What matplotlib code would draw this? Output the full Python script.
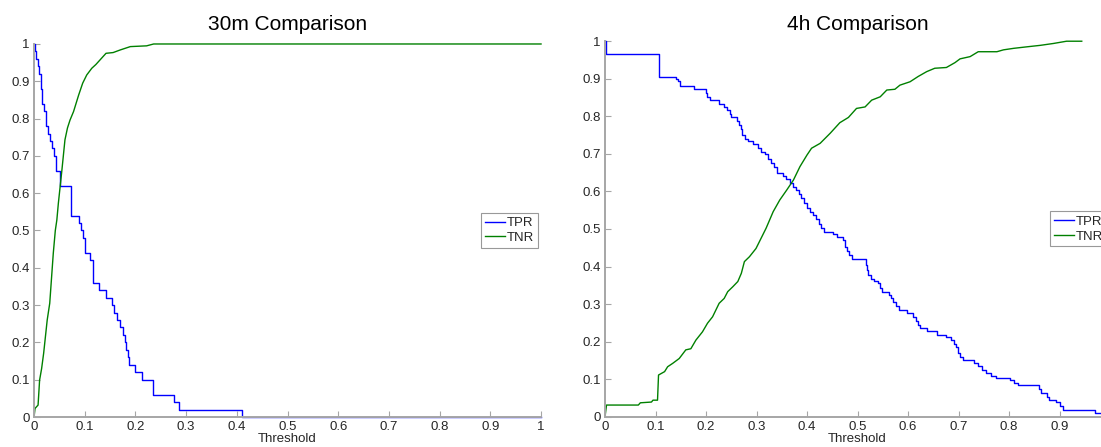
"""TPR / TNR against decision threshold for the 30m and 4h models."""
import matplotlib

matplotlib.use("Agg")
import matplotlib.pyplot as plt
from matplotlib.ticker import FixedLocator, FixedFormatter

plt.rcParams["font.family"] = ["Liberation Sans", "DejaVu Sans"]

# 30m model
tpr30_x = [0, 0.002, 0.004, 0.007, 0.010, 0.013, 0.016, 0.020, 0.023, 0.027, 0.031, 0.035,
           0.039, 0.043, 0.052, 0.072, 0.089, 0.093, 0.097, 0.101, 0.111, 0.116, 0.128, 0.141,
           0.153, 0.158, 0.164, 0.169, 0.176, 0.179, 0.182, 0.185, 0.188, 0.199, 0.213, 0.234,
           0.277, 0.285, 0.411, 1.0]
tpr30_y = [1.0, 0.98, 0.96, 0.94, 0.92, 0.88, 0.84, 0.82, 0.78, 0.76, 0.74, 0.72,
           0.70, 0.66, 0.62, 0.54, 0.52, 0.50, 0.48, 0.44, 0.42, 0.36, 0.34, 0.32,
           0.30, 0.28, 0.26, 0.24, 0.22, 0.20, 0.18, 0.16, 0.14, 0.12, 0.10, 0.06,
           0.04, 0.02, 0.0, 0.0]
tnr30_x = [0, 0.002, 0.008, 0.011, 0.015, 0.019, 0.026, 0.031, 0.038, 0.042, 0.045, 0.048,
           0.055, 0.061, 0.066, 0.071, 0.078, 0.088, 0.096, 0.104, 0.114, 0.122, 0.130, 0.142,
           0.156, 0.170, 0.190, 0.222, 0.236, 1.0]
tnr30_y = [0, 0.023, 0.032, 0.099, 0.13, 0.171, 0.26, 0.305, 0.439, 0.50, 0.528, 0.573,
           0.662, 0.743, 0.775, 0.796, 0.819, 0.863, 0.895, 0.917, 0.935, 0.945, 0.957, 0.975,
           0.977, 0.984, 0.993, 0.995, 1.0, 1.0]

# 4h model
tpr4h_x = [0, 0.002, 0.106, 0.141, 0.144, 0.148, 0.177, 0.199, 0.202, 0.207, 0.226, 0.236,
           0.241, 0.247, 0.250, 0.262, 0.266, 0.269, 0.272, 0.277, 0.284, 0.293, 0.303, 0.308,
           0.317, 0.322, 0.328, 0.334, 0.341, 0.352, 0.358, 0.366, 0.372, 0.379, 0.384, 0.389,
           0.394, 0.399, 0.406, 0.412, 0.417, 0.423, 0.427, 0.433, 0.452, 0.459, 0.472, 0.476,
           0.479, 0.484, 0.490, 0.517, 0.519, 0.521, 0.526, 0.532, 0.541, 0.545, 0.548, 0.562,
           0.566, 0.570, 0.576, 0.583, 0.598, 0.610, 0.616, 0.620, 0.623, 0.638, 0.658, 0.676,
           0.686, 0.691, 0.695, 0.698, 0.703, 0.709, 0.731, 0.738, 0.746, 0.754, 0.764, 0.774,
           0.802, 0.809, 0.818, 0.860, 0.864, 0.876, 0.880, 0.894, 0.900, 0.907, 0.970, 1.0]
tpr4h_y = [1.0, 0.965, 0.906, 0.899, 0.893, 0.881, 0.872, 0.862, 0.852, 0.843, 0.833, 0.826,
           0.817, 0.806, 0.797, 0.787, 0.777, 0.765, 0.750, 0.740, 0.733, 0.726, 0.716, 0.706,
           0.699, 0.687, 0.676, 0.664, 0.648, 0.641, 0.632, 0.623, 0.613, 0.604, 0.594, 0.582,
           0.568, 0.555, 0.545, 0.537, 0.526, 0.514, 0.502, 0.493, 0.487, 0.479, 0.470, 0.452,
           0.440, 0.431, 0.420, 0.405, 0.390, 0.377, 0.368, 0.362, 0.355, 0.343, 0.333, 0.325,
           0.315, 0.306, 0.294, 0.284, 0.275, 0.266, 0.256, 0.245, 0.235, 0.227, 0.218, 0.212,
           0.203, 0.193, 0.185, 0.170, 0.160, 0.151, 0.142, 0.135, 0.125, 0.116, 0.108, 0.104,
           0.098, 0.091, 0.084, 0.075, 0.064, 0.052, 0.045, 0.040, 0.028, 0.018, 0.009, 0.009]
tnr4h_x = [0, 0.003, 0.066, 0.070, 0.092, 0.095, 0.104, 0.106, 0.118, 0.124, 0.134, 0.147,
           0.160, 0.170, 0.180, 0.193, 0.203, 0.213, 0.226, 0.236, 0.243, 0.253, 0.263, 0.270,
           0.276, 0.286, 0.299, 0.309, 0.319, 0.326, 0.333, 0.346, 0.360, 0.373, 0.386, 0.400,
           0.409, 0.426, 0.446, 0.465, 0.482, 0.498, 0.515, 0.528, 0.545, 0.558, 0.574, 0.584,
           0.604, 0.620, 0.637, 0.653, 0.676, 0.693, 0.703, 0.723, 0.739, 0.776, 0.789, 0.809,
           0.835, 0.862, 0.888, 0.914, 0.944]
tnr4h_y = [0, 0.031, 0.031, 0.037, 0.039, 0.044, 0.044, 0.111, 0.120, 0.133, 0.142, 0.155,
           0.178, 0.181, 0.204, 0.226, 0.249, 0.266, 0.302, 0.315, 0.333, 0.346, 0.360, 0.382,
           0.413, 0.426, 0.448, 0.475, 0.502, 0.524, 0.546, 0.577, 0.604, 0.630, 0.666, 0.697,
           0.715, 0.728, 0.755, 0.783, 0.797, 0.821, 0.825, 0.843, 0.852, 0.870, 0.872, 0.883,
           0.892, 0.906, 0.919, 0.928, 0.930, 0.943, 0.953, 0.959, 0.972, 0.972, 0.977, 0.981,
           0.985, 0.989, 0.994, 1.0, 1.0]

ticks = [0, 0.1, 0.2, 0.3, 0.4, 0.5, 0.6, 0.7, 0.8, 0.9, 1.0]
tick_labels = ["0", "0.1", "0.2", "0.3", "0.4", "0.5", "0.6", "0.7", "0.8", "0.9", "1"]

AXIS_GREY = "#a6a6a6"
TEXT_GREY = "#262626"


def _style_axes(ax, title, n_xticks, title_pad):
    for side in ("top", "right"):
        ax.spines[side].set_visible(False)
    for side in ("bottom", "left"):
        ax.spines[side].set_color(AXIS_GREY)
        ax.spines[side].set_linewidth(1.4)
    ax.set_xlim(0, 1)
    ax.set_ylim(0, 1)
    ax.xaxis.set_major_locator(FixedLocator(ticks[:n_xticks]))
    ax.xaxis.set_major_formatter(FixedFormatter(tick_labels[:n_xticks]))
    ax.yaxis.set_major_locator(FixedLocator(ticks))
    ax.yaxis.set_major_formatter(FixedFormatter(tick_labels))
    ax.tick_params(direction="in", length=4, width=0.8, color=AXIS_GREY,
                   labelcolor=TEXT_GREY, labelsize=9.5, pad=3)
    ax.set_title(title, fontsize=15, color="black", pad=title_pad)
    ax.set_xlabel("Threshold", fontsize=9.5, color=TEXT_GREY, labelpad=0)


def _plot_panel(ax, tpr_x, tpr_y, tnr_x, tnr_y, title, n_xticks=len(ticks), title_pad=9.8):
    ax.plot(tpr_x, tpr_y, color="#0000ff", lw=1.0, drawstyle="steps-post",
            label="TPR", clip_on=False)
    ax.plot(tnr_x, tnr_y, color="#008000", lw=1.0, label="TNR", clip_on=False)
    _style_axes(ax, title, n_xticks, title_pad)
    leg = ax.legend(loc="center right", fontsize=9.5, frameon=True, fancybox=False,
                    edgecolor="#999999", framealpha=1, borderpad=0.3, labelspacing=0.2,
                    handlelength=1.5, handletextpad=0.15, borderaxespad=0.2)
    leg.get_frame().set_linewidth(0.8)
    for text in leg.get_texts():
        text.set_color(TEXT_GREY)


def main():
    fig = plt.figure(figsize=(11.01, 4.47), dpi=100)
    ax_left = fig.add_axes([0.0309, 0.0671, 0.4605, 0.8345])
    ax_right = fig.add_axes([0.5495, 0.0678, 0.4587, 0.8400])
    _plot_panel(ax_left, tpr30_x, tpr30_y, tnr30_x, tnr30_y, "30m Comparison")
    # the 4h panel runs past the right edge of the figure, so its last tick is off-canvas
    _plot_panel(ax_right, tpr4h_x, tpr4h_y, tnr4h_x, tnr4h_y, "4h Comparison",
                n_xticks=10, title_pad=7.8)
    fig.savefig("out.png", dpi=100)
    plt.close(fig)


if __name__ == "__main__":
    main()
